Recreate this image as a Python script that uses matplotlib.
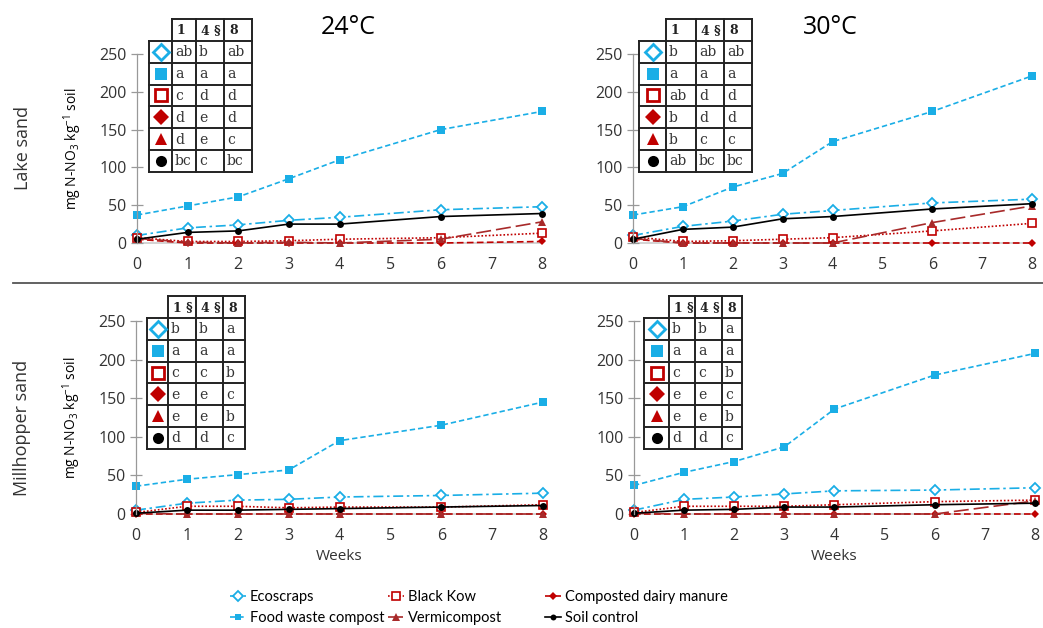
import matplotlib.pyplot as plt

W, H = 1043, 628

weeks = [0, 1, 2, 3, 4, 6, 8]
series = ["Ecoscraps", "Food waste compost", "Black Kow",
          "Composted dairy manure", "Vermicompost", "Soil control"]

# mg N-NO3 per kg soil, one list per series, order as in `series`
lake_24 = {
    "Ecoscraps":              [10, 20, 24, 30, 34, 44, 48],
    "Food waste compost":     [37, 49, 61, 85, 110, 150, 174],
    "Black Kow":              [7, 2, 2, 3, 5, 7, 13],
    "Composted dairy manure": [5, 0, 0, 0, 0, 0, 2],
    "Vermicompost":           [6, 1, 0, 1, 0, 5, 28],
    "Soil control":           [5, 14, 16, 25, 25, 35, 39],
}
lake_30 = {
    "Ecoscraps":              [10, 22, 29, 38, 43, 53, 58],
    "Food waste compost":     [37, 48, 74, 92, 134, 174, 221],
    "Black Kow":              [8, 2, 3, 5, 7, 16, 26],
    "Composted dairy manure": [5, 0, 0, 0, 0, 0, 0],
    "Vermicompost":           [6, 0, 0, 0, 0, 27, 49],
    "Soil control":           [5, 18, 21, 32, 35, 45, 52],
}
mill_24 = {
    "Ecoscraps":              [5, 14, 18, 19, 22, 24, 27],
    "Food waste compost":     [36, 45, 51, 57, 95, 115, 145],
    "Black Kow":              [2, 10, 10, 8, 9, 9, 12],
    "Composted dairy manure": [0, 0, 0, 0, 0, 0, 0],
    "Vermicompost":           [1, 0, 0, 0, 0, 0, 0],
    "Soil control":           [1, 5, 5, 6, 7, 9, 11],
}
mill_30 = {
    "Ecoscraps":              [5, 19, 22, 26, 30, 31, 34],
    "Food waste compost":     [37, 54, 68, 87, 136, 180, 208],
    "Black Kow":              [2, 10, 10, 10, 12, 16, 18],
    "Composted dairy manure": [0, 0, 0, 0, 0, 0, 0],
    "Vermicompost":           [1, 0, 0, 0, 0, 0, 17],
    "Soil control":           [1, 5, 6, 9, 9, 12, 14],
}

lake_header = ["1", "4 §", "8"]
mill_header = ["1 §", "4 §", "8"]
lake_24_letters = [["ab", "b", "ab"], ["a", "a", "a"], ["c", "d", "d"],
                   ["d", "e", "d"], ["d", "e", "c"], ["bc", "c", "bc"]]
lake_30_letters = [["b", "ab", "ab"], ["a", "a", "a"], ["ab", "d", "d"],
                   ["b", "d", "d"], ["b", "c", "c"], ["ab", "bc", "bc"]]
mill_24_letters = [["b", "b", "a"], ["a", "a", "a"], ["c", "c", "b"],
                   ["e", "e", "c"], ["e", "e", "b"], ["d", "d", "c"]]
mill_30_letters = [["b", "b", "a"], ["a", "a", "a"], ["c", "c", "b"],
                   ["e", "e", "c"], ["e", "e", "b"], ["d", "d", "c"]]

x_ticks = list(range(9))
y_ticks = [0, 50, 100, 150, 200, 250]

CYAN = "#1aaee6"
RED = "#c00000"
BROWN = "#a82a2a"
styles = {
    "Ecoscraps": dict(color=CYAN, marker="D", mfc="white", ms=5.5, mew=1.3, dashes=(6, 2.2, 1.5, 2.2)),
    "Food waste compost": dict(color=CYAN, marker="s", mfc=CYAN, ms=5.5, mew=0, dashes=(3.2, 1.8)),
    "Black Kow": dict(color=RED, marker="s", mfc="white", ms=6, mew=1.2, dashes=(1, 1.2)),
    "Composted dairy manure": dict(color=RED, marker="D", mfc=RED, ms=4.5, mew=0, dashes=(4, 2)),
    "Vermicompost": dict(color=BROWN, marker="^", mfc=BROWN, ms=6, mew=0, dashes=(9, 3)),
    "Soil control": dict(color="black", marker="o", mfc="black", ms=5, mew=0, dashes=(None, None)),
}
table_styles = {
    "Ecoscraps": dict(color=CYAN, marker="D", mfc="white", ms=8.5, mew=2),
    "Food waste compost": dict(color=CYAN, marker="s", mfc=CYAN, ms=8.5, mew=0),
    "Black Kow": dict(color=RED, marker="s", mfc="white", ms=9, mew=2),
    "Composted dairy manure": dict(color=RED, marker="D", mfc=RED, ms=8, mew=0),
    "Vermicompost": dict(color=RED, marker="^", mfc=RED, ms=9, mew=0),
    "Soil control": dict(color="black", marker="o", mfc="black", ms=8, mew=0),
}

plt.rcParams["mathtext.fontset"] = "custom"
plt.rcParams["mathtext.rm"] = "Open Sans"
plt.rcParams["mathtext.it"] = "Open Sans"

fig = plt.figure(figsize=(W / 100, H / 100), dpi=100)


def px_axes(left, top, right, bottom):
    return fig.add_axes([left / W, 1 - bottom / H, (right - left) / W, (bottom - top) / H])


def draw_panel(box, data, ylabel, xlabel):
    ax = px_axes(*box)
    for name in series:
        st = styles[name]
        ax.plot(weeks, data[name], color=st["color"], lw=1.2, dashes=st["dashes"],
                marker=st["marker"], markerfacecolor=st["mfc"], markeredgecolor=st["color"],
                markersize=st["ms"], markeredgewidth=st["mew"], clip_on=False, label=name)
    ax.set_xlim(0, 8)
    ax.set_ylim(0, 250)
    ax.set_xticks(x_ticks)
    ax.set_yticks(y_ticks)
    for s in ["top", "right"]:
        ax.spines[s].set_visible(False)
    ax.spines["left"].set_color("#999999")
    ax.spines["bottom"].set_color("#cccccc")
    ax.spines["left"].set_linewidth(0.9)
    ax.spines["bottom"].set_linewidth(1.2)
    ax.spines["bottom"].set_zorder(0)
    ax.tick_params(axis="y", direction="inout", length=9, width=0.9, color="#999999",
                   labelsize=11.5, labelcolor="#333333", pad=3)
    ax.tick_params(axis="x", length=0, labelsize=11.5, labelcolor="#333333", pad=10)
    for lab in ax.get_xticklabels() + ax.get_yticklabels():
        lab.set_family("Open Sans")
    ax.patch.set_alpha(0)
    if ylabel:
        ax.set_ylabel(r"mg N-NO$_3$ kg$^{-1}$ soil", family="Open Sans", fontsize=10, labelpad=11)
    if xlabel:
        ax.set_xlabel("Weeks", family="Open Sans", fontsize=11, color="#333333", labelpad=4)
    return ax


def draw_table(left, top, edges, header, letters):
    hh, rh = 22, 21.8
    tw, th = edges[-1], hh + rh * len(letters)
    ax = px_axes(left, top, left + tw, top + th)
    ax.set_xlim(0, tw)
    ax.set_ylim(th, 0)
    ax.axis("off")
    lk = dict(color="#222222", lw=1.4, clip_on=False, solid_capstyle="projecting")
    ax.plot([edges[1], tw], [0, 0], **lk)
    for i in range(len(letters) + 1):
        y = hh + rh * i
        ax.plot([0, tw], [y, y], **lk)
    ax.plot([0, 0], [hh, th], **lk)
    for x in edges[1:]:
        ax.plot([x, x], [0, th], **lk)
    for j, h in enumerate(header):
        ax.text(edges[j + 1] + 5, hh / 2 + 1, h, ha="left", va="center",
                fontsize=9, fontweight="bold", family="DejaVu Serif", color="#222222")
    for i, name in enumerate(series):
        yc = hh + rh * (i + 0.5)
        st = table_styles[name]
        ax.plot([edges[1] / 2], [yc], linestyle="none", marker=st["marker"],
                markerfacecolor=st["mfc"], markeredgecolor=st["color"],
                markersize=st["ms"], markeredgewidth=st["mew"], clip_on=False)
        for j, t in enumerate(letters[i]):
            ax.text(edges[j + 1] + 3, yc + 0.5, t, ha="left", va="center",
                    fontsize=10, family="DejaVu Serif", color="#333333")


ax_tl = draw_panel((137, 54, 542, 243), lake_24, True, False)
ax_tr = draw_panel((633, 54, 1032, 243), lake_30, False, False)
ax_bl = draw_panel((136, 321, 543, 514), mill_24, True, True)
ax_br = draw_panel((634, 321, 1035, 514), mill_30, False, True)

draw_table(149, 19, [0, 23, 47, 75, 103], lake_header, lake_24_letters)
draw_table(639, 19, [0, 27, 57, 85, 113], lake_header, lake_30_letters)
draw_table(147, 296, [0, 21, 49, 76, 98], mill_header, mill_24_letters)
draw_table(644, 296, [0, 25, 51, 78, 98], mill_header, mill_30_letters)

fig.text(348 / W, 1 - 27 / H, "24°C", ha="center", va="center", fontsize=18, family="Open Sans")
fig.text(830 / W, 1 - 27 / H, "30°C", ha="center", va="center", fontsize=18, family="Open Sans")
fig.text(23 / W, 1 - 148 / H, "Lake sand", rotation=90, ha="center", va="center",
         fontsize=13, family="Open Sans", color="#333333")
fig.text(22 / W, 1 - 428 / H, "Millhopper sand", rotation=90, ha="center", va="center",
         fontsize=13, family="Open Sans", color="#333333")

fig.add_artist(plt.Line2D([13 / W, 1], [1 - 283 / H, 1 - 283 / H], color="#555555", lw=1.3))

# legend: three columns placed separately
handles, labels = ax_tl.get_legend_handles_labels()
cols = [(0, 1), (2, 4), (3, 5)]
col_x = [230, 388, 545]
for (a, b), x in zip(cols, col_x):
    fig.legend([handles[a], handles[b]], [labels[a], labels[b]], loc="upper left",
               bbox_to_anchor=(x / W, 1 - 590 / H), frameon=False, handlelength=1.1,
               handletextpad=0.25, labelspacing=0.5, borderaxespad=0, borderpad=0,
               markerscale=0.85, prop={"family": "Lato", "size": 10.5})

fig.savefig("out.png", dpi=100)
